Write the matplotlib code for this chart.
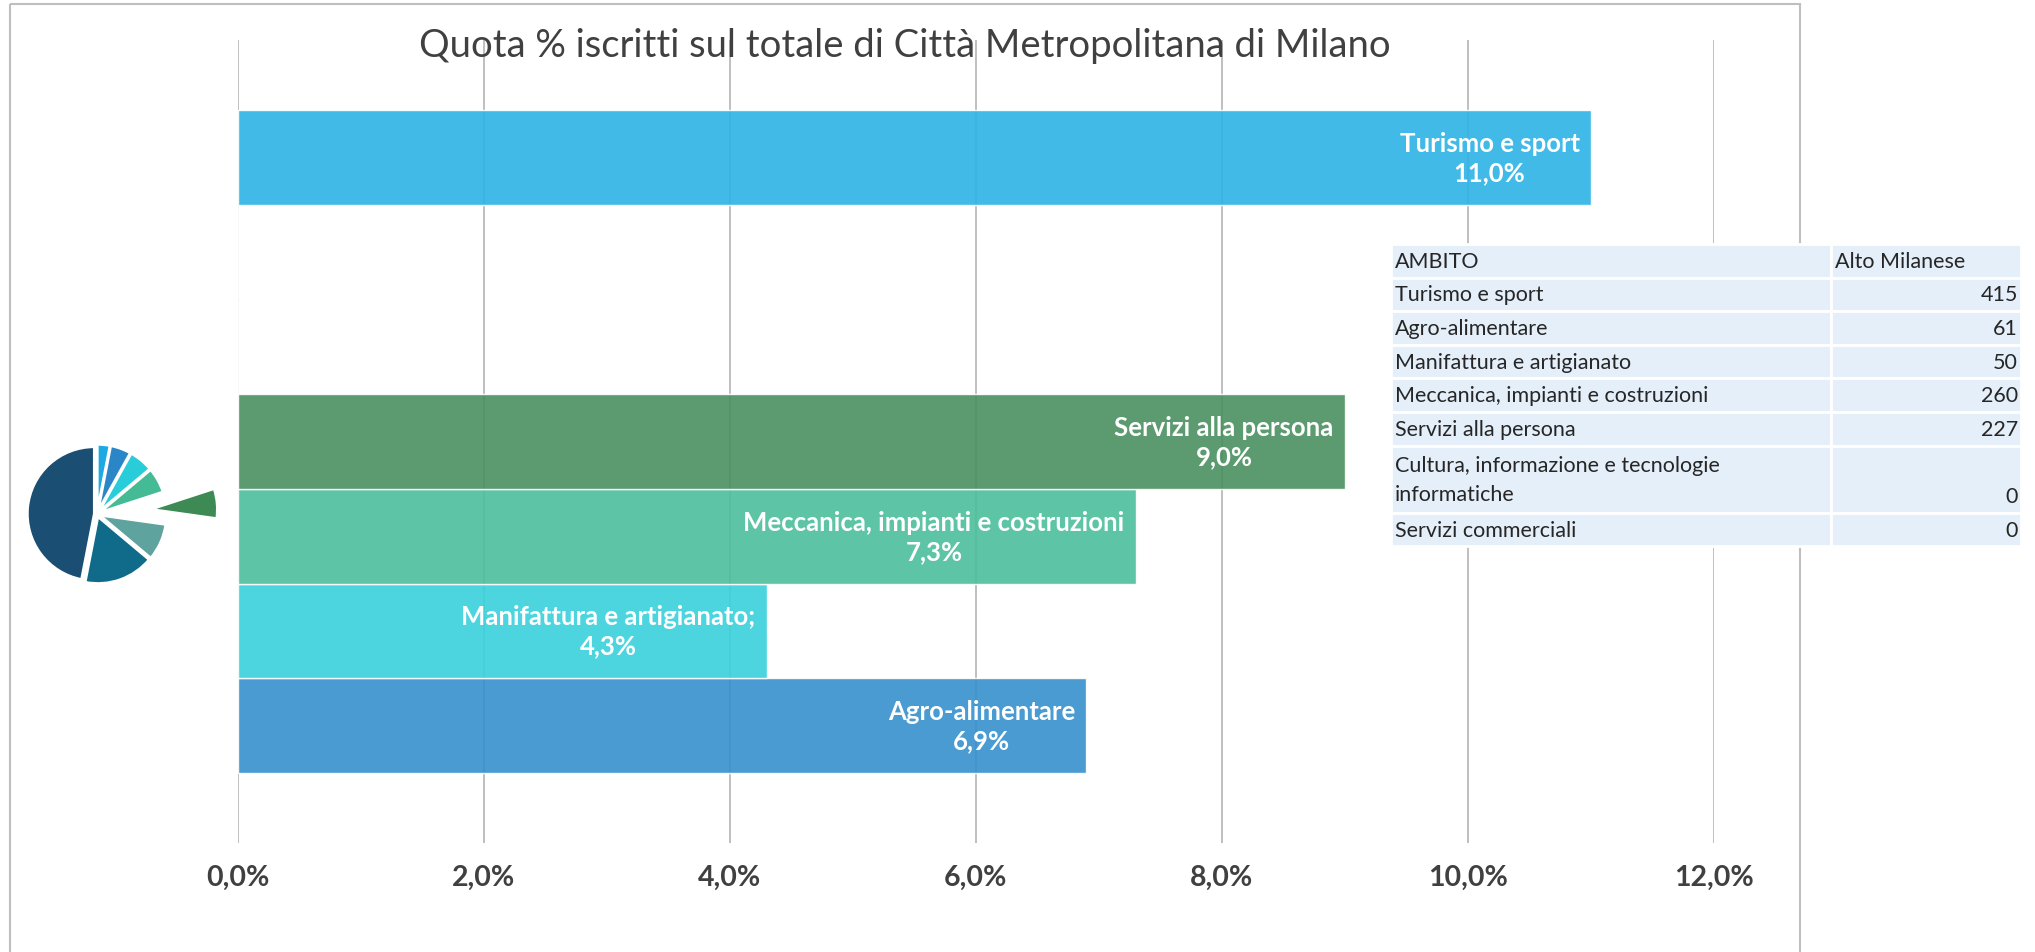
import matplotlib
matplotlib.use("Agg")
import matplotlib.pyplot as plt
from matplotlib.patches import Rectangle
from matplotlib.ticker import FuncFormatter

plt.rcParams["font.family"] = ["Lato", "DejaVu Sans"]

# dati del grafico a barre (dal basso verso l'alto)
bar_names = ["Agro-alimentare", "Manifattura e artigianato;",
             "Meccanica, impianti e costruzioni", "Servizi alla persona",
             "Servizi commerciali", "Cultura, informazione e tecnologie informatiche",
             "Turismo e sport"]
bar_values = [6.9, 4.3, 7.3, 9.0, 0.0, 0.0, 11.0]
bar_colors = ["#3590CC", "#38D1DB", "#4CBE9C", "#4A9060", "#999999", "#999999", "#2DB3E5"]
x_ticks = [0, 2, 4, 6, 8, 10, 12]

# tabella
table_header = ["AMBITO", "Alto Milanese"]
table_ambiti = ["Turismo e sport", "Agro-alimentare", "Manifattura e artigianato",
                "Meccanica, impianti e costruzioni", "Servizi alla persona",
                "Cultura, informazione e tecnologie\ninformatiche", "Servizi commerciali"]
table_values = [415, 61, 50, 260, 227, 0, 0]

# torta decorativa (gradi stimati)
pie_values = [11, 18, 21, 22, 26, 32, 61, 169]
pie_colors = ["#1DAAE2", "#2B86C8", "#29CDD9", "#44BA95", "#3E8A55", "#5FA39F", "#106A8A", "#1B4E73"]
pie_explode = [0.04, 0.04, 0.04, 0.04, 0.8, 0.04, 0.04, 0.04]

title = "Quota % iscritti sul totale di Città Metropolitana di Milano"

W, H = 2035, 953
fig = plt.figure(figsize=(W / 100, H / 100), dpi=100)

# --- barre ---
ax = fig.add_axes([237.7 / W, 1 - 844 / H, 1476 / W, 803 / H])
ypos = list(range(len(bar_values)))
ax.barh(ypos, bar_values, height=1.0, color=bar_colors, alpha=0.9,
        edgecolor="white", linewidth=1)
ax.set_xlim(0, 12)
ax.set_ylim(-1.24, 7.24)
ax.set_xticks(x_ticks)
ax.xaxis.set_major_formatter(FuncFormatter(lambda v, p: f"{v:.1f}%".replace(".", ",")))
ax.set_yticks([])
ax.grid(axis="x", color="#BFBFBF", linewidth=1.4)
ax.set_axisbelow(True)
for s in ax.spines.values():
    s.set_visible(False)
ax.tick_params(axis="x", length=0, pad=15, labelsize=20.5, labelcolor="#404040")
for lab in ax.get_xticklabels():
    lab.set_fontweight("bold")

for y, name, v in zip(ypos, bar_names, bar_values):
    if v <= 0:
        continue
    ax.text(v - 0.09, y, f"{name}\n{v:.1f}%".replace(".", ","), ha="right", va="center",
            multialignment="center", color="white", fontweight="bold",
            fontsize=18.5, linespacing=1.25)

fig.text(905 / W, 1 - 46 / H, title, ha="center", va="center", fontsize=27.5, color="#404040")

# --- sovrapposizione in pixel: cornice e tabella ---
ov = fig.add_axes([0, 0, 1, 1])
ov.set_xlim(0, W)
ov.set_ylim(H, 0)
ov.axis("off")
ov.add_patch(Rectangle((10, 5), 1790, 1000, fill=False, edgecolor="#BFBFBF", linewidth=1.5))

tx0, tx1, tx2 = 1391, 1831, 2021
unit = 33.6
top = 245
fs = 15.5
rows = [(table_header[0], table_header[1], 1)] + \
       [(a, str(v), 2 if "\n" in a else 1) for a, v in zip(table_ambiti, table_values)]
y = top
for i, (a, v, n) in enumerate(rows):
    h = unit * n
    ov.add_patch(Rectangle((tx0, y), tx1 - tx0, h, facecolor="#E4EFF9", edgecolor="white", linewidth=2))
    ov.add_patch(Rectangle((tx1, y), tx2 - tx1, h, facecolor="#E4EFF9", edgecolor="white", linewidth=2))
    ov.text(tx0 + 4, y + h / 2, a, ha="left", va="center", fontsize=fs,
            color="#262626", linespacing=1.55)
    if i == 0:
        ov.text(tx1 + 4, y + h / 2, v, ha="left", va="center", fontsize=fs, color="#262626")
    else:
        ov.text(tx2 - 3, y + h - unit / 2, v, ha="right", va="center", fontsize=fs, color="#262626")
    y += h

# --- torta ---
pc = (97, 515)
r = 67
pax = fig.add_axes([(pc[0] - 150) / W, 1 - (pc[1] + 150) / H, 300 / W, 300 / H])
pax.pie(pie_values, colors=pie_colors, explode=pie_explode, startangle=90,
        counterclock=False, radius=1, wedgeprops=dict(edgecolor="white", linewidth=2))
pax.set_xlim(-150 / r, 150 / r)
pax.set_ylim(-150 / r, 150 / r)
pax.set_aspect("equal")
pax.axis("off")

fig.savefig("out.png", dpi=100)
